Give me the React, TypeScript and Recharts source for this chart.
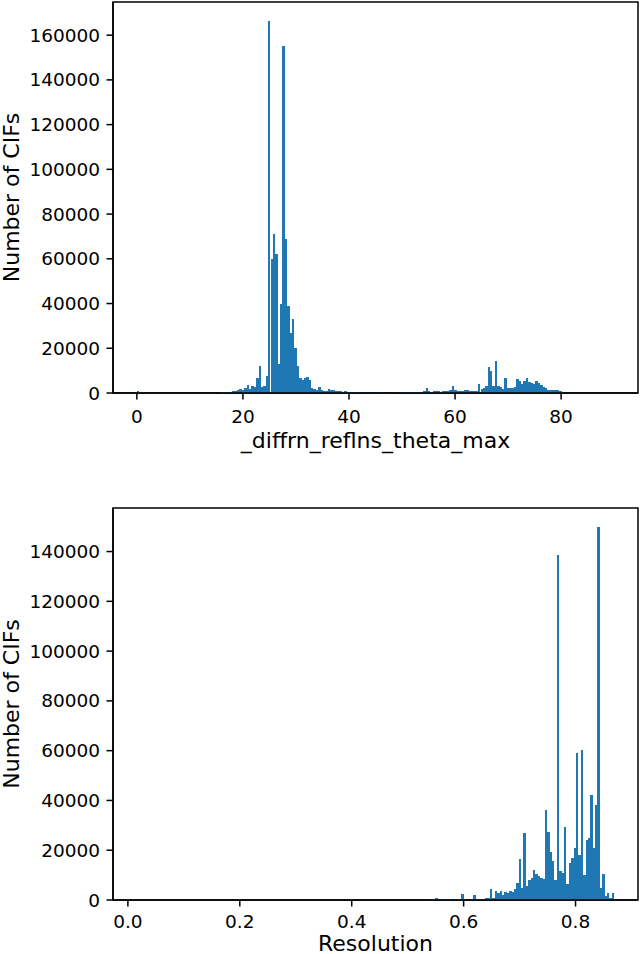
import React from 'react';
import { BarChart, Bar, XAxis, YAxis, ReferenceArea, Label } from 'recharts';

const BLUE = '#1f77b4';
const FONT = '"DejaVu Sans", sans-serif';
const FS = 18.5;
const LABEL_FS = 22;

// --- top histogram: _diffrn_reflns_theta_max (200 bins, 0 .. 90) ---
const thetaBinStart = 0;
const thetaBinWidth = 0.45;
const thetaCounts = [
  800, 300, 0, 0, 0, 0, 0, 0, 0, 0,
  0, 0, 0, 0, 0, 0, 0, 0, 0, 0,
  0, 0, 0, 0, 0, 0, 0, 0, 0, 0,
  0, 0, 0, 0, 200, 400, 300, 500, 400, 600,
  800, 700, 1200, 2000, 1500, 2200, 3400, 2000, 3000, 2500,
  6700, 11900, 2500, 3000, 7500, 166500, 60000, 71000, 62000, 13000,
  40000, 155000, 69000, 39000, 27000, 33000, 20000, 12000, 6500, 6000,
  6700, 7000, 6000, 2200, 1600, 1500, 2800, 1200, 1000, 900,
  2000, 1300, 1200, 1000, 800, 700, 600, 700, 500, 400,
  400, 300, 400, 300, 200, 300, 0, 200, 300, 200,
  300, 200, 300, 0, 200, 0, 0, 0, 0, 0,
  300, 400, 300, 400, 500, 400, 500, 600, 500, 600,
  700, 2200, 800, 600, 700, 800, 700, 600, 900, 800,
  1000, 1200, 3100, 1200, 1000, 900, 1100, 1400, 1200, 1000,
  900, 1000, 1100, 4000, 2000, 2300, 3000, 11500, 10000, 3300,
  14400, 3300, 2500, 2000, 6700, 2200, 2300, 2200, 2500, 6300,
  5500, 4000, 5500, 6700, 5000, 4300, 4000, 5500, 4500, 3500,
  2500, 2200, 1400, 1300, 1200, 1500, 1300, 800, 300, 0,
  0, 0, 0, 0, 0, 0, 0, 0, 0, 0,
  0, 0, 0, 0, 0, 0, 0, 0, 0, 50,
];
const thetaDomain: [number, number] = [-4.5, 94.5];
const thetaTicks = [0, 20, 40, 60, 80];
const thetaCountTicks = [0, 20000, 40000, 60000, 80000, 100000, 120000, 140000, 160000];

// --- bottom histogram: Resolution (200 bins, 0.016 .. 0.869) ---
const resBinStart = 0.016;
const resBinWidth = 0.004265;
const resCounts = [
  0, 0, 0, 0, 0, 0, 0, 0, 0, 0,
  0, 0, 0, 0, 0, 0, 0, 0, 0, 0,
  0, 0, 0, 0, 0, 0, 0, 0, 0, 0,
  0, 0, 0, 0, 0, 0, 0, 0, 0, 0,
  0, 0, 0, 0, 0, 0, 0, 0, 0, 0,
  0, 0, 0, 0, 0, 0, 0, 0, 0, 0,
  0, 0, 0, 0, 0, 0, 0, 0, 0, 0,
  0, 0, 0, 0, 0, 0, 0, 0, 0, 0,
  0, 0, 0, 0, 0, 0, 0, 0, 0, 0,
  0, 0, 0, 0, 0, 0, 0, 0, 0, 0,
  0, 0, 150, 0, 0, 0, 0, 0, 0, 0,
  0, 0, 0, 150, 0, 0, 0, 0, 100, 0,
  0, 0, 200, 300, 400, 700, 300, 300, 250, 300,
  300, 350, 500, 500, 300, 300, 2400, 150, 100, 200,
  500, 2000, 400, 400, 400, 500, 900, 900, 4400, 1000,
  3500, 2800, 3500, 2000, 3200, 2800, 3500, 3200, 4400, 7000,
  16500, 5000, 27000, 5500, 8000, 8800, 12000, 10500, 9500, 8700,
  8500, 36000, 27500, 19400, 15500, 8000, 138500, 11800, 11000, 29500,
  6400, 15000, 16800, 20800, 59000, 18000, 60300, 10000, 24000, 25000,
  42000, 21000, 38000, 150000, 5000, 10500, 1600, 3000, 1000, 3000,
];
const resDomain: [number, number] = [-0.0266, 0.9116];
const resTicks = [0, 0.2, 0.4, 0.6, 0.8];
const resCountTicks = [0, 20000, 40000, 60000, 80000, 100000, 120000, 140000];

const W = 640;
const Y_AXIS_W = 113;
const RIGHT = 2;
const PLOT_W = W - Y_AXIS_W - RIGHT;

const axisStyle = { stroke: '#000', strokeWidth: 1.5 };
const tickStyle = { fill: '#000', fontSize: FS, fontFamily: FONT };

interface HistProps {
  counts: number[];
  binStart: number;
  binWidth: number;
  xDomain: [number, number];
  xTicks: number[];
  yTicks: number[];
  xLabel: string;
  fmt: (v: number) => string;
  height: number;
  top: number;
  plotBottom: number;
  xAxisHeight: number;
  xTickMargin: number;
  labelOffset: number;
}

function Histogram(p: HistProps) {
  const n = p.counts.length;
  const pxPerUnit = PLOT_W / (p.xDomain[1] - p.xDomain[0]);
  const padL = (p.binStart - p.xDomain[0]) * pxPerUnit;
  const padR = (p.xDomain[1] - (p.binStart + n * p.binWidth)) * pxPerUnit;
  const band = p.binWidth * pxPerUnit;
  const yMax = Math.max(...p.counts) * 1.05;
  const bottom = p.height - p.plotBottom - p.xAxisHeight;

  const data = p.counts.map((c, i) => ({
    bin: i,
    center: p.binStart + (i + 0.5) * p.binWidth,
    count: c,
  }));

  return (
    <BarChart
      width={W}
      height={p.height}
      data={data}
      margin={{ top: p.top, right: RIGHT, bottom, left: 0 }}
      barCategoryGap={0}
      barGap={0}
    >
      <XAxis
        xAxisId="cat"
        dataKey="bin"
        type="category"
        orientation="top"
        height={0}
        hide
        padding={{ left: padL, right: padR }}
      />
      <XAxis
        xAxisId="num"
        dataKey="center"
        type="number"
        domain={p.xDomain}
        ticks={p.xTicks}
        interval={0}
        allowDataOverflow
        height={p.xAxisHeight}
        tickSize={6.5}
        tickMargin={p.xTickMargin}
        tickFormatter={p.fmt}
        axisLine={axisStyle}
        tickLine={axisStyle}
        tick={tickStyle}
      >
        <Label
          value={p.xLabel}
          position="insideBottom"
          offset={p.labelOffset}
          fill="#000"
          fontSize={LABEL_FS}
          fontFamily={FONT}
        />
      </XAxis>
      <YAxis
        type="number"
        width={Y_AXIS_W}
        domain={[0, yMax]}
        ticks={p.yTicks}
        interval={0}
        allowDataOverflow
        tickSize={6.5}
        tickMargin={6.5}
        axisLine={axisStyle}
        tickLine={axisStyle}
        tick={tickStyle}
      >
        <Label
          value="Number of CIFs"
          angle={-90}
          position="insideLeft"
          offset={11}
          fill="#000"
          fontSize={LABEL_FS}
          fontFamily={FONT}
          style={{ textAnchor: 'middle' }}
        />
      </YAxis>
      <Bar xAxisId="cat" dataKey="count" fill={BLUE} barSize={band - 0.001} isAnimationActive={false} />
      <ReferenceArea
        xAxisId="num"
        x1={p.xDomain[0]}
        x2={p.xDomain[1]}
        y1={0}
        y2={yMax}
        fill="none"
        stroke="#000"
        strokeWidth={1.5}
        ifOverflow="visible"
      />
    </BarChart>
  );
}

export default function App() {
  return (
    <div style={{ position: 'absolute', top: 0, left: 0, width: W, height: 954, background: '#fff' }}>
      <style>{'.recharts-bar-rectangle path { shape-rendering: crispEdges; }'}</style>
      <div style={{ position: 'absolute', top: 0, left: 0 }}>
        <Histogram
          counts={thetaCounts}
          binStart={thetaBinStart}
          binWidth={thetaBinWidth}
          xDomain={thetaDomain}
          xTicks={thetaTicks}
          yTicks={thetaCountTicks}
          xLabel="_diffrn_reflns_theta_max"
          fmt={(v) => String(v)}
          height={477}
          top={2}
          plotBottom={393}
          xAxisHeight={60}
          xTickMargin={10}
          labelOffset={5}
        />
      </div>
      <div style={{ position: 'absolute', top: 477, left: 0 }}>
        <Histogram
          counts={resCounts}
          binStart={resBinStart}
          binWidth={resBinWidth}
          xDomain={resDomain}
          xTicks={resTicks}
          yTicks={resCountTicks}
          xLabel="Resolution"
          fmt={(v) => v.toFixed(1)}
          height={477}
          top={31}
          plotBottom={423}
          xAxisHeight={54}
          xTickMargin={8}
          labelOffset={3}
        />
      </div>
    </div>
  );
}
